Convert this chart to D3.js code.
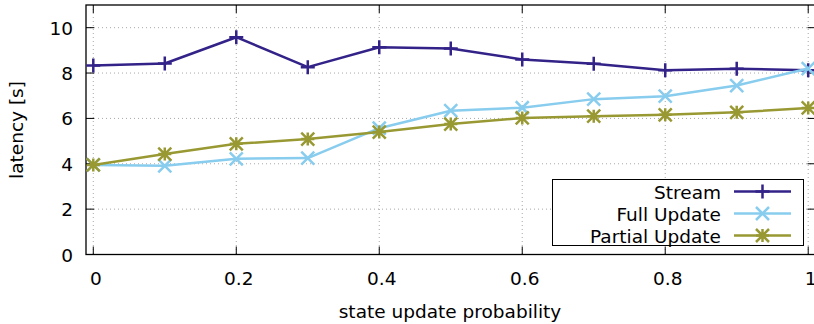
<!DOCTYPE html>
<html>
<head>
<meta charset="utf-8">
<script src="https://cdn.jsdelivr.net/npm/d3@7"></script>
<style>
  body { margin: 0; background: #fff; }
  svg { font-family: "DejaVu Sans", sans-serif; }
</style>
</head>
<body>
<div id="chart"></div>
<script>
// latency vs state update probability, gnuplot-like look

var probs = [0, 0.1, 0.2, 0.3, 0.4, 0.5, 0.6, 0.7, 0.8, 0.9, 1.0];
var stream = [8.33, 8.42, 9.58, 8.26, 9.14, 9.08, 8.6, 8.41, 8.12, 8.19, 8.12];
var fullUpdate = [3.95, 3.91, 4.22, 4.25, 5.57, 6.34, 6.47, 6.85, 6.98, 7.45, 8.2];
var partialUpdate = [3.95, 4.43, 4.88, 5.09, 5.4, 5.75, 6.02, 6.1, 6.16, 6.27, 6.46];
var xTicks = [0, 0.2, 0.4, 0.6, 0.8, 1];
var yTicks = [0, 2, 4, 6, 8, 10];

var series = [
  {name: "Stream", values: stream, color: "#332288", marker: "plus"},
  {name: "Full Update", values: fullUpdate, color: "#88ccee", marker: "cross"},
  {name: "Partial Update", values: partialUpdate, color: "#999933", marker: "star"}
];

(function(){
var W = 814, H = 324;
var mLeft = 86, mRight = 815.5, mTop = 5, mBottom = 254.5;
var fs = 18.5;

var svg = d3.select("#chart").append("svg")
  .attr("width", W).attr("height", H);

var x = d3.scaleLinear().domain([-0.0102, 1.0102]).range([mLeft, mRight]);
var y = d3.scaleLinear().domain([0, 11]).range([mBottom, mTop]);

// grid
var grid = svg.append("g").attr("stroke", "#a8a8a8").attr("stroke-width", 1)
  .attr("stroke-dasharray", "1,3");
xTicks.forEach(function(t){
  grid.append("line").attr("x1", x(t)).attr("x2", x(t))
    .attr("y1", mTop).attr("y2", mBottom);
});
yTicks.filter(function(t){ return t > 0; }).forEach(function(t){
  grid.append("line").attr("x1", mLeft).attr("x2", mRight)
    .attr("y1", y(t)).attr("y2", y(t));
});

// ticks (inward, mirrored)
var tk = svg.append("g").attr("stroke", "#000").attr("stroke-width", 1);
var tl = 8;
xTicks.forEach(function(t){
  tk.append("line").attr("x1", x(t)).attr("x2", x(t)).attr("y1", mBottom).attr("y2", mBottom - tl);
  tk.append("line").attr("x1", x(t)).attr("x2", x(t)).attr("y1", mTop).attr("y2", mTop + tl);
});
yTicks.forEach(function(t){
  tk.append("line").attr("x1", mLeft).attr("x2", mLeft + tl).attr("y1", y(t)).attr("y2", y(t));
  tk.append("line").attr("x1", mRight).attr("x2", mRight - tl).attr("y1", y(t)).attr("y2", y(t));
});

// frame
svg.append("rect").attr("x", mLeft).attr("y", mTop)
  .attr("width", mRight - mLeft).attr("height", mBottom - mTop)
  .attr("fill", "none").attr("stroke", "#000").attr("stroke-width", 1.3);

// tick labels
svg.append("g").selectAll("text").data(xTicks).enter().append("text")
  .attr("x", function(d){ return x(d) + 2.5; })
  .attr("y", 285)
  .attr("text-anchor", "middle")
  .attr("font-size", fs)
  .text(function(d){ return d3.format("")(d); });

svg.append("g").selectAll("text").data(yTicks).enter().append("text")
  .attr("x", 73)
  .attr("y", function(d){ return y(d) + 7; })
  .attr("text-anchor", "end")
  .attr("font-size", fs)
  .text(function(d){ return d; });

// axis titles
svg.append("text").attr("x", 450).attr("y", 318)
  .attr("text-anchor", "middle").attr("font-size", fs)
  .text("state update probability");
svg.append("text")
  .attr("transform", "translate(23,130) rotate(-90)")
  .attr("text-anchor", "middle").attr("font-size", fs)
  .text("latency [s]");

// markers
function drawMarker(g, kind, cx, cy, color){
  var s = kind === "plus" ? 7 : 6.5;
  var p = d3.path();
  if (kind === "plus" || kind === "star"){
    p.moveTo(cx - s, cy); p.lineTo(cx + s, cy);
    p.moveTo(cx, cy - s); p.lineTo(cx, cy + s);
  }
  if (kind === "cross" || kind === "star"){
    p.moveTo(cx - s, cy - s); p.lineTo(cx + s, cy + s);
    p.moveTo(cx - s, cy + s); p.lineTo(cx + s, cy - s);
  }
  g.append("path").attr("d", p.toString())
    .attr("stroke", color).attr("stroke-width", 2.5).attr("fill", "none");
}

var line = d3.line()
  .x(function(d, i){ return x(probs[i]); })
  .y(function(d){ return y(d); });

var plot = svg.append("g");
series.forEach(function(s){
  var g = plot.append("g");
  g.append("path").attr("d", line(s.values))
    .attr("fill", "none").attr("stroke", s.color).attr("stroke-width", 2.5)
    .attr("stroke-linejoin", "round");
  s.values.forEach(function(v, i){
    drawMarker(g, s.marker, x(probs[i]), y(v), s.color);
  });
});

// legend
var lg = svg.append("g");
lg.append("rect").attr("x", 552.5).attr("y", 179.5)
  .attr("width", 251).attr("height", 66)
  .attr("fill", "#fff").attr("stroke", "#000").attr("stroke-width", 1);
series.forEach(function(s, i){
  var ly = 191.5 + i * 22;
  lg.append("text").attr("x", 721).attr("y", ly + 7)
    .attr("text-anchor", "end").attr("font-size", fs).text(s.name);
  lg.append("line").attr("x1", 734).attr("x2", 791)
    .attr("y1", ly).attr("y2", ly)
    .attr("stroke", s.color).attr("stroke-width", 2.5);
  drawMarker(lg, s.marker, 762.5, ly, s.color);
});
})();
</script>
</body>
</html>
